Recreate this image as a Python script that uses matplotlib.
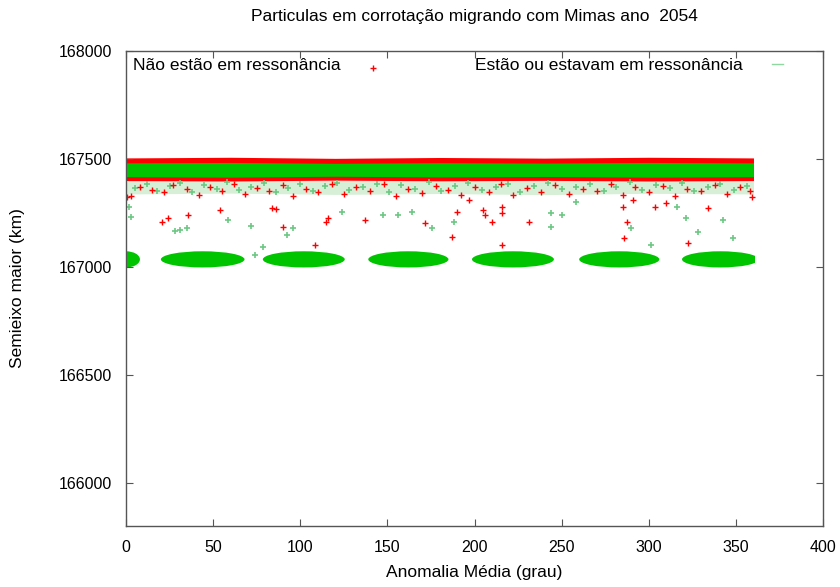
import matplotlib.pyplot as plt
from matplotlib.patches import Ellipse, Rectangle

plt.rcParams['font.family'] = ['Liberation Sans', 'DejaVu Sans']

# faixa densa de particulas (anomalia 0-360)
faixa_x = [0, 60, 120, 180, 240, 300, 360]
verm_topo = [167505, 167508, 167503, 167507, 167504, 167508, 167505]
verde_topo = [167482, 167484, 167480, 167483, 167481, 167484, 167482]
verde_base = [167418, 167416, 167420, 167417, 167419, 167416, 167418]
verm_base = [167400, 167398, 167402, 167399, 167401, 167398, 167400]
mistura_base = [167338, 167342, 167336, 167340, 167335, 167341, 167338]

# aglomerados em ressonancia (centro, largura)
grupo_x = [0, 44, 102, 162, 222, 283, 341]
grupo_larg = [16, 48, 47, 46, 47, 46, 44]
grupo_a = 167035
grupo_alt = 75

# pontos espalhados - nao estao em ressonancia
nr_x = [3, 8, 15, 22, 27, 35, 42, 48, 55, 62, 68, 75, 82, 90, 96, 103, 110, 118, 125,
        132, 140, 148, 155, 162, 170, 178, 185, 192, 200, 208, 215, 222, 230, 238, 246,
        254, 262, 270, 278, 285, 292, 300, 308, 315, 322, 330, 338, 345, 352, 358,
        0.5, 20.5, 24, 35.6, 54, 84, 86, 90, 108.5, 115, 116, 137, 171.6, 187, 190, 197,
        205, 206, 210, 216, 216, 216, 231, 285, 287.5, 286, 303.6, 310, 322.5, 334, 359, 291]
nr_a = [167330, 167370, 167355, 167345, 167380, 167360, 167335, 167372, 167350, 167385,
        167340, 167365, 167352, 167378, 167330, 167360, 167345, 167382, 167338, 167368,
        167350, 167385, 167330, 167362, 167342, 167375, 167355, 167335, 167370, 167348,
        167385, 167332, 167365, 167345, 167378, 167338, 167360, 167350, 167383, 167335,
        167368, 167345, 167375, 167330, 167362, 167350, 167380, 167340, 167368, 167352,
        167324, 167208, 167227, 167241, 167264, 167273, 167268, 167185, 167102, 167208,
        167227, 167218, 167204, 167139, 167255, 167310, 167264, 167241, 167208, 167278,
        167250, 167102, 167208, 167278, 167208, 167134, 167278, 167296, 167111, 167273,
        167324, 167310]

# pontos espalhados - estao ou estavam em ressonancia
r_x = [5, 12, 18, 25, 31, 38, 45, 52, 58, 65, 72, 79, 86, 93, 100, 107, 114, 121, 128,
       136, 144, 151, 158, 166, 174, 181, 189, 196, 204, 212, 219, 226, 234, 242, 250,
       258, 266, 274, 281, 289, 296, 304, 312, 319, 326, 334, 341, 349, 356,
       2, 3, 28, 31, 35, 58.5, 72, 78.6, 74, 92.4, 96, 124, 147.5, 156, 164, 175.6, 188,
       244, 244, 250, 258, 290, 301, 316, 321, 342.6, 348, 328]
r_a = [167365, 167385, 167350, 167375, 167390, 167345, 167380, 167360, 167392, 167355,
       167372, 167388, 167348, 167366, 167384, 167352, 167376, 167390, 167358, 167370,
       167386, 167345, 167378, 167362, 167392, 167350, 167374, 167388, 167356, 167368,
       167382, 167348, 167376, 167390, 167360, 167372, 167386, 167352, 167368, 167392,
       167355, 167378, 167364, 167388, 167350, 167372, 167384, 167358, 167376,
       167278, 167231, 167165, 167171, 167180, 167218, 167190, 167093, 167056, 167148,
       167180, 167255, 167241, 167241, 167255, 167180, 167208, 167185, 167250, 167241,
       167301, 167180, 167102, 167278, 167227, 167218, 167134, 167160]

vermelho = '#ff0000'
verde = '#00c400'
verde_claro = '#8fd8a0'

fig = plt.figure(figsize=(8.4, 5.87), dpi=100)
ax = fig.add_axes([0.150, 0.104, 0.830, 0.809])

# zona misturada logo abaixo da faixa
ax.fill_between(faixa_x, mistura_base, verm_base, color='#d6efd6', lw=0)
ax.fill_between(faixa_x, verm_base, verm_topo, color=vermelho, lw=0)
ax.fill_between(faixa_x, verde_base, verde_topo, color=verde, lw=0)
ax.plot(r_x, r_a, '+', color='#6cc884', ms=5, mew=1.2)
ax.plot(nr_x, nr_a, '+', color=vermelho, ms=5, mew=1)

# os aglomerados so vao ate 360 graus
corte = Rectangle((0, 165800), 361, 2200, transform=ax.transData)
for cx, w in zip(grupo_x, grupo_larg):
    el = Ellipse((cx, grupo_a), w, grupo_alt, color=verde, lw=0)
    ax.add_patch(el)
    el.set_clip_path(corte)

ax.set_xlim(0, 400)
ax.set_ylim(165800, 168000)
ax.set_xticks(range(0, 401, 50))
ax.set_yticks([166000, 166500, 167000, 167500, 168000])
ax.tick_params(direction='in', top=True, right=True, length=5, width=0.8,
               labelsize=11.5, color='#555555', pad=10)
for s in ax.spines.values():
    s.set_color('#555555')
    s.set_linewidth(1)

# legenda no estilo do gnuplot
ax.text(0.010, 0.970, 'Não estão em ressonância', transform=ax.transAxes,
        fontsize=12.5, va='center', ha='left')
ax.plot([0.354], [0.965], '+', color=vermelho, ms=4, mew=1, transform=ax.transAxes)
ax.text(0.885, 0.970, 'Estão ou estavam em ressonância', transform=ax.transAxes,
        fontsize=12.5, va='center', ha='right')
ax.plot([0.927, 0.943], [0.973, 0.973], color=verde_claro, lw=1, transform=ax.transAxes)

ax.set_title('Particulas em corrotação migrando com Mimas ano  2054', fontsize=12.5, pad=22)
ax.set_xlabel('Anomalia Média (grau)', fontsize=12.5, labelpad=7)
ax.set_ylabel('Semieixo maior (km)', fontsize=12.5, labelpad=24)

fig.savefig('out.png', dpi=100)
